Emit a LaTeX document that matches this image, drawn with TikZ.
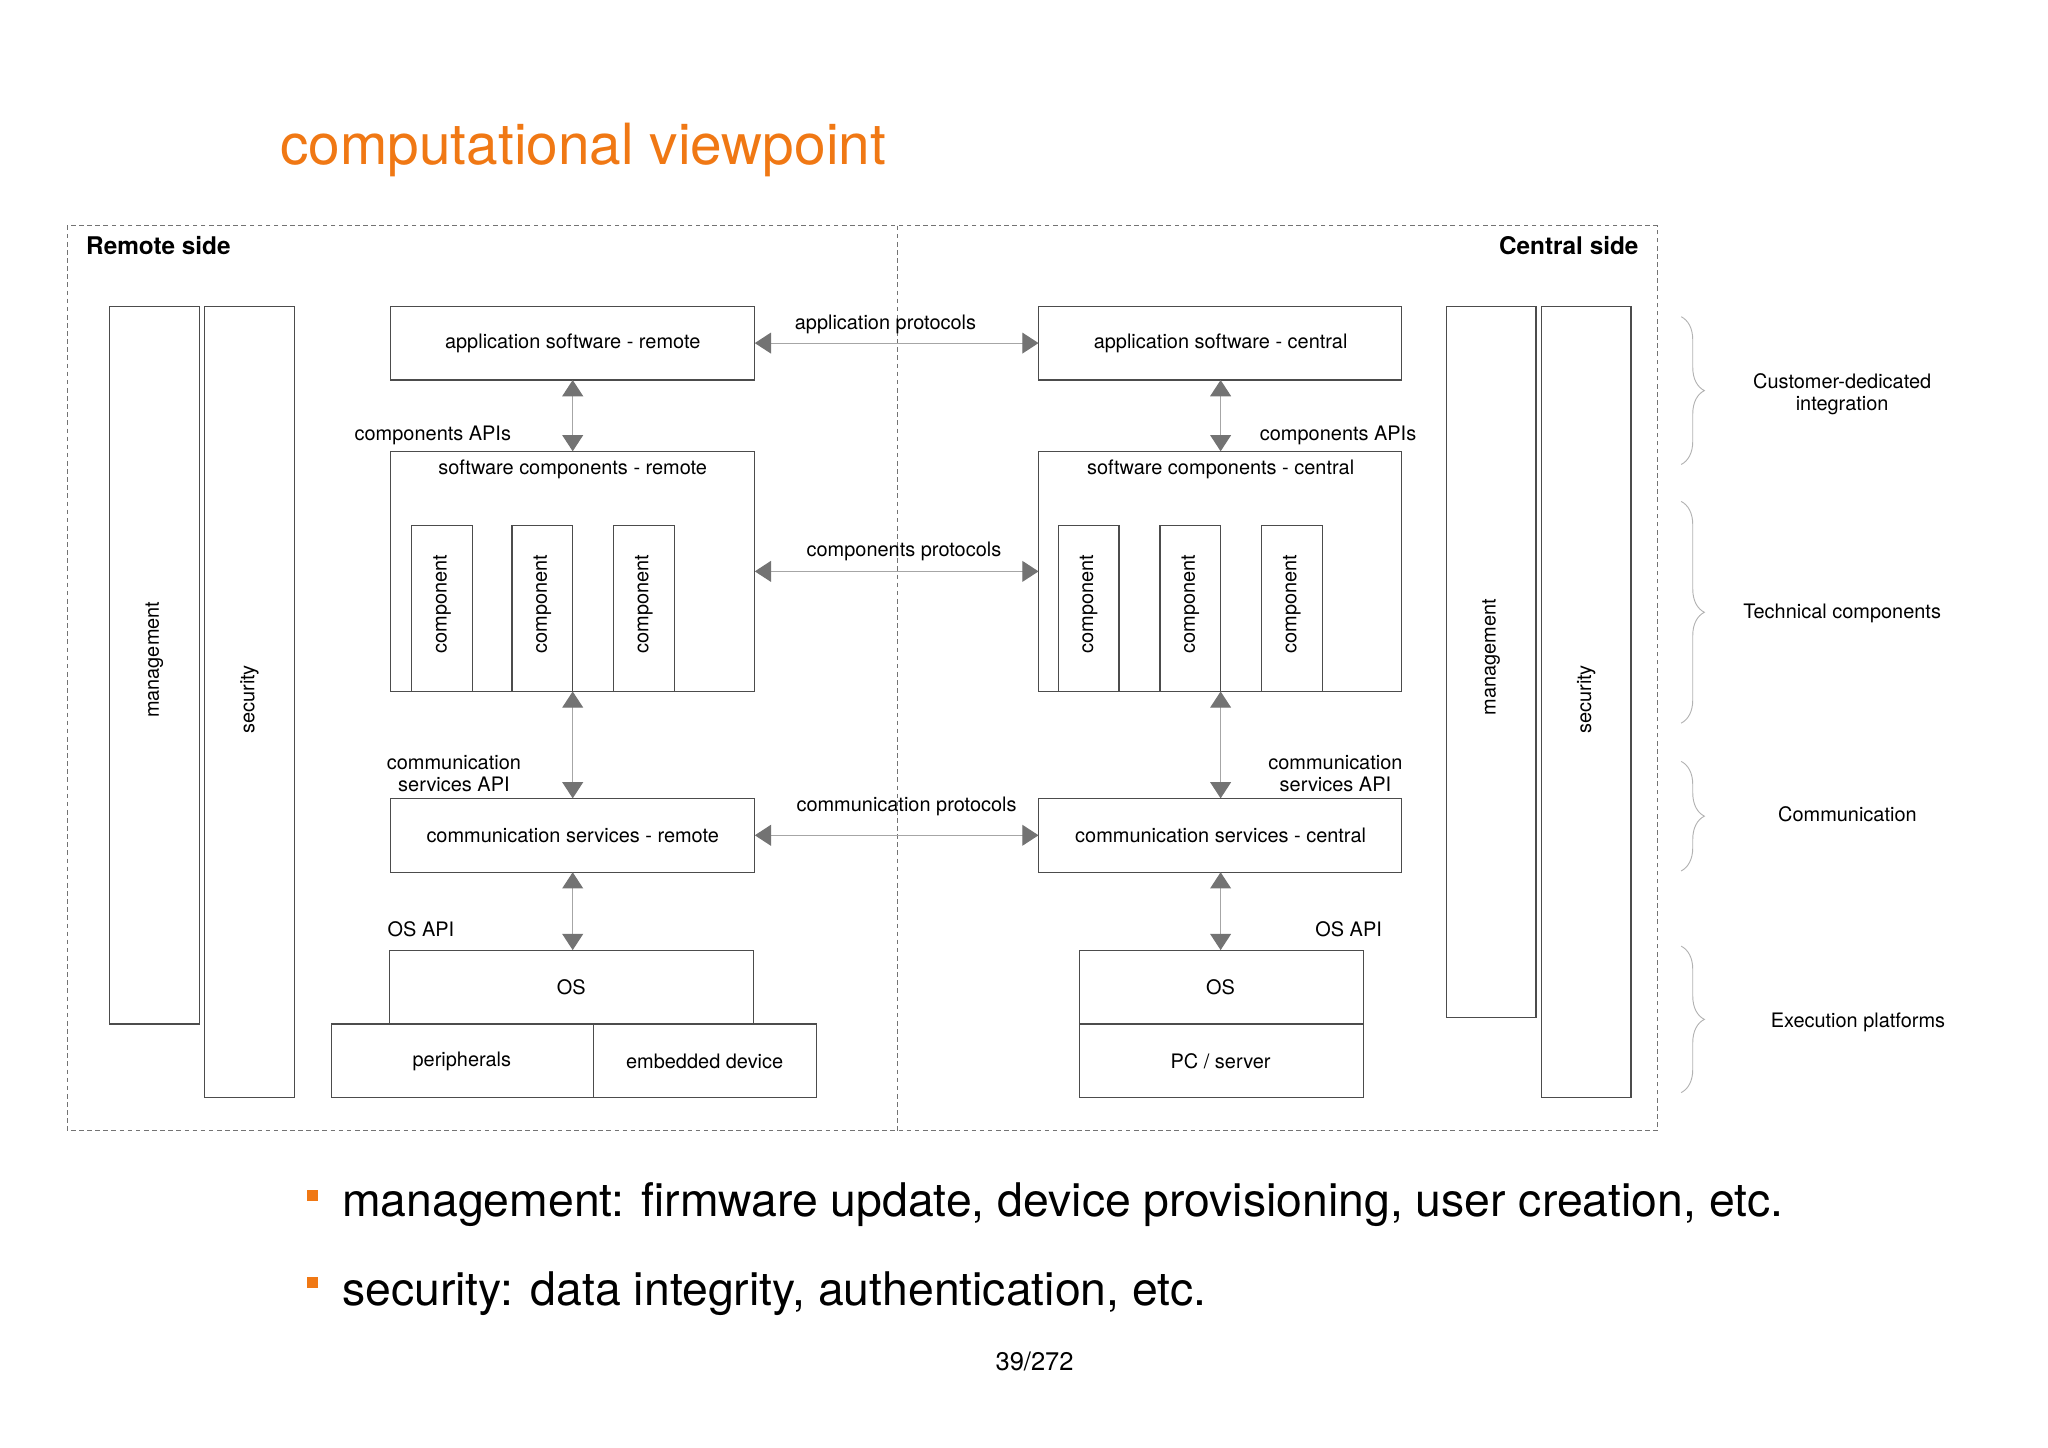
\documentclass[tikz,border=0pt]{standalone}
\usepackage{fontspec}
\setmainfont{TeX Gyre Heros}
\usetikzlibrary{arrows.meta,decorations.pathreplacing}
\definecolor{orng}{RGB}{240,120,20}
\begin{document}
\begin{tikzpicture}[x=0.02cm,y=-0.02cm,
  font=\fontsize{8.6pt}{9.6pt}\selectfont,
  box/.style={draw=black!70,line width=0.5pt},
  lbl/.style={align=center,inner sep=0pt},
  link/.style={draw=black!35,line width=0.5pt,
    {Triangle[width=9pt,length=7pt,fill=black!55,color=black!55]}-{Triangle[width=9pt,length=7pt,fill=black!55,color=black!55]}},
  brace/.style={draw=black!30,decorate,decoration={brace,amplitude=10pt}},
]
\useasboundingbox (0,0) rectangle (1552,1097);
% title
\node[anchor=base west,inner sep=0pt,text=orng,font=\fontsize{24.5pt}{27pt}\selectfont] (title) at (212,125) {computational viewpoint};
% frame
\draw[black!55,dashed,line width=0.4pt,dash pattern=on 2pt off 1.5pt] (51,171) rectangle (1256,857);
\draw[black!55,dashed,line width=0.4pt,dash pattern=on 2pt off 1.5pt] (680,171) -- (680,857);
\node[anchor=west,font=\fontsize{10.5pt}{12pt}\selectfont\bfseries,inner sep=0pt] (rs) at (65,186) {Remote side};
\node[anchor=east,font=\fontsize{10.5pt}{12pt}\selectfont\bfseries,inner sep=0pt] (cs) at (1242,186) {Central side};
% left vertical bars
\draw[box] (83,232) rectangle (151,776);
\node[rotate=90] (mgl) at (117,500) {management};
\draw[box] (155,232) rectangle (223,832);
\node[rotate=90] (secl) at (189,530) {security};
% remote stack
\draw[box] (296,232) rectangle (572,288);
\node (appr) at (434,260) {application software - remote};
\draw[box] (296,342) rectangle (572,524);
\node (swr) at (434,356) {software components - remote};
\foreach \x/\n in {312/ca,388/cb,465/cc}{
  \draw[box] (\x,398) rectangle (\x+46,524);
  \node[rotate=90] (\n) at (\x+23,458) {component};
}
\draw[box] (296,605) rectangle (572,661);
\node (comr) at (434,633) {communication services - remote};
\draw[box] (295,720) rectangle (571,776);
\node (osr) at (433,748) {OS};
\draw[box] (251,776) rectangle (450,832);
\node (per) at (350,804) {peripherals};
\draw[box] (450,776) rectangle (619,832);
\node (emb) at (534,804) {embedded device};
% central stack
\draw[box] (787,232) rectangle (1062,288);
\node (appc) at (925,260) {application software - central};
\draw[box] (787,342) rectangle (1062,524);
\node (swc) at (925,356) {software components - central};
\foreach \x/\n in {802/cd,879/ce,956/cf}{
  \draw[box] (\x,398) rectangle (\x+46,524);
  \node[rotate=90] (\n) at (\x+23,458) {component};
}
\draw[box] (787,605) rectangle (1062,661);
\node (comc) at (925,633) {communication services - central};
\draw[box] (818,720) rectangle (1033,776);
\node (osc) at (925,748) {OS};
\draw[box] (818,776) rectangle (1033,832);
\node (pc) at (925,804) {PC / server};
% right vertical bars
\draw[box] (1096,232) rectangle (1164,771);
\node[rotate=90] (mgc) at (1130,498) {management};
\draw[box] (1168,232) rectangle (1236,832);
\node[rotate=90] (secc) at (1202,530) {security};
% connectors
\coordinate (a1) at (434,288); \coordinate (a2) at (434,342);
\coordinate (a3) at (434,524); \coordinate (a4) at (434,605);
\coordinate (a5) at (434,661); \coordinate (a6) at (434,720);
\coordinate (b1) at (925,288); \coordinate (b2) at (925,342);
\coordinate (b3) at (925,524); \coordinate (b4) at (925,605);
\coordinate (b5) at (925,661); \coordinate (b6) at (925,720);
\coordinate (h1) at (572,260); \coordinate (h2) at (787,260);
\coordinate (h3) at (572,433); \coordinate (h4) at (787,433);
\coordinate (h5) at (572,633); \coordinate (h6) at (787,633);
\draw[link] (a1) -- (a2); \draw[link] (a3) -- (a4); \draw[link] (a5) -- (a6);
\draw[link] (b1) -- (b2); \draw[link] (b3) -- (b4); \draw[link] (b5) -- (b6);
\draw[link] (h1) -- (h2); \draw[link] (h3) -- (h4); \draw[link] (h5) -- (h6);
% labels
\node (lap) at (671,246) {application protocols};
\node (lcp) at (685,418) {components protocols};
\node (lmp) at (687,611) {communication protocols};
\node (lcar) at (328,330) {components APIs};
\node (lcac) at (1014,330) {components APIs};
\node[lbl] (lsar) at (344,586) {communication\\services API};
\node[lbl] (lsac) at (1012,586) {communication\\services API};
\node (losr) at (319,704) {OS API};
\node (losc) at (1022,704) {OS API};
% braces
\draw[brace] (1274,240) -- (1274,352);
\draw[brace] (1274,380) -- (1274,548);
\draw[brace] (1274,577) -- (1274,660);
\draw[brace] (1274,717) -- (1274,828);
\node[lbl] (br1) at (1396,299) {Customer-dedicated\\integration};
\node (br2) at (1396,465) {Technical components};
\node (br3) at (1400,617) {Communication};
\node (br4) at (1408,775) {Execution platforms};
% bullets
\fill[orng] (233,902) rectangle (241,910);
\node[anchor=base west,inner sep=0pt,font=\fontsize{20pt}{23pt}\selectfont] (bu1) at (259,922) {management: firmware update, device provisioning, user creation, etc.};
\fill[orng] (233,968) rectangle (241,976);
\node[anchor=base west,inner sep=0pt,font=\fontsize{20pt}{23pt}\selectfont] (bu2) at (259,989) {security: data integrity, authentication, etc.};
\node[font=\fontsize{11pt}{13pt}\selectfont] (pg) at (784,1032) {39/272};
\end{tikzpicture}
\end{document}
